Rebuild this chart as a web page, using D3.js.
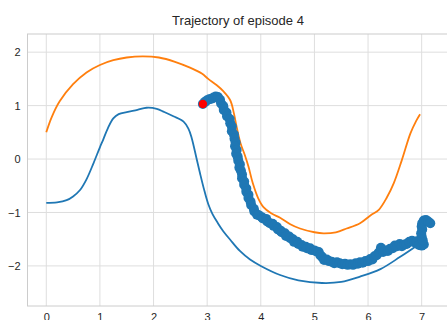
<!DOCTYPE html>
<html>
<head>
<meta charset="utf-8">
<script src="https://cdn.jsdelivr.net/npm/d3@7"></script>
<style>
  html, body { margin: 0; padding: 0; background: #fff; }
  svg { display: block; font-family: "Liberation Sans", Arial, sans-serif; }
</style>
</head>
<body>
<svg id="chart" width="447" height="320"></svg>
<script>
// Reference path (lower boundary), x / y
const lowerX = [0.0, 0.2, 0.38, 0.5, 0.63, 0.75, 0.88, 1.0, 1.06, 1.15, 1.25, 1.35, 1.5, 1.7, 1.87, 2.06, 2.2, 2.37, 2.56, 2.65, 2.71, 2.8, 2.87, 2.95, 3.02, 3.1, 3.2, 3.3, 3.43, 3.61, 3.8, 4.0, 4.36, 4.7, 5.14, 5.5, 5.85, 6.23, 6.6, 6.97];
const lowerY = [-0.82, -0.81, -0.77, -0.70, -0.58, -0.38, -0.08, 0.22, 0.36, 0.58, 0.76, 0.84, 0.88, 0.92, 0.96, 0.94, 0.88, 0.80, 0.70, 0.57, 0.40, 0.02, -0.28, -0.60, -0.84, -1.03, -1.2, -1.35, -1.51, -1.72, -1.88, -2.0, -2.17, -2.27, -2.32, -2.3, -2.2, -2.06, -1.83, -1.58];

// Upper boundary
const upperX = [0.0, 0.1, 0.25, 0.5, 0.75, 1.0, 1.25, 1.5, 1.8, 2.1, 2.4, 2.68, 2.9, 3.02, 3.18, 3.3, 3.43, 3.5, 3.55, 3.62, 3.7, 3.77, 3.85, 3.95, 4.05, 4.2, 4.36, 4.55, 4.73, 5.0, 5.17, 5.4, 5.6, 5.85, 6.05, 6.2, 6.35, 6.48, 6.63, 6.79, 6.9, 6.97];
const upperY = [0.5, 0.78, 1.08, 1.40, 1.62, 1.76, 1.85, 1.90, 1.92, 1.90, 1.82, 1.71, 1.60, 1.50, 1.38, 1.27, 1.10, 0.85, 0.6, 0.3, 0.08, -0.14, -0.45, -0.73, -0.9, -1.02, -1.10, -1.22, -1.30, -1.37, -1.39, -1.37, -1.30, -1.20, -1.05, -0.95, -0.72, -0.45, -0.02, 0.48, 0.72, 0.84];

// Trajectory of the episode (position, velocity)
const trajX = [2.92, 2.96, 3.00, 3.04, 3.08, 3.12, 3.16, 3.20, 3.24, 3.26, 3.30, 3.31, 3.36, 3.37, 3.42, 3.43, 3.46, 3.46, 3.50, 3.51, 3.53, 3.52, 3.55, 3.54, 3.57, 3.58, 3.61, 3.60, 3.63, 3.65, 3.65, 3.69, 3.69, 3.73, 3.73, 3.77, 3.77, 3.81, 3.82, 3.87, 3.88, 3.93, 3.96, 4.02, 4.04, 4.10, 4.12, 4.17, 4.22, 4.24, 4.30, 4.32, 4.37, 4.39, 4.45, 4.47, 4.53, 4.55, 4.60, 4.62, 4.68, 4.70, 4.76, 4.78, 4.84, 4.86, 4.92, 4.94, 5.00, 5.04, 5.08, 5.11, 5.14, 5.18, 5.23, 5.27, 5.32, 5.37, 5.42, 5.47, 5.52, 5.57, 5.62, 5.67, 5.72, 5.77, 5.81, 5.85, 5.90, 5.95, 6.00, 6.04, 6.08, 6.12, 6.16, 6.20, 6.24, 6.28, 6.32, 6.37, 6.41, 6.46, 6.50, 6.54, 6.59, 6.63, 6.68, 6.72, 6.77, 6.82, 6.87, 6.91, 6.95, 7.00, 7.04, 7.02, 7.00, 6.99, 7.01, 7.00, 7.01, 7.04, 7.08, 7.12, 7.16];
const trajY = [1.03, 1.07, 1.10, 1.12, 1.13, 1.15, 1.17, 1.16, 1.11, 1.04, 0.99, 0.92, 0.87, 0.80, 0.75, 0.67, 0.61, 0.52, 0.46, 0.38, 0.31, 0.24, 0.17, 0.10, 0.04, -0.03, -0.10, -0.16, -0.22, -0.29, -0.36, -0.42, -0.48, -0.55, -0.61, -0.67, -0.73, -0.80, -0.86, -0.93, -0.98, -1.04, -1.05, -1.09, -1.11, -1.12, -1.17, -1.20, -1.21, -1.25, -1.27, -1.32, -1.34, -1.37, -1.39, -1.44, -1.45, -1.48, -1.50, -1.55, -1.55, -1.59, -1.61, -1.64, -1.64, -1.67, -1.67, -1.70, -1.71, -1.73, -1.74, -1.80, -1.83, -1.89, -1.88, -1.91, -1.92, -1.95, -1.93, -1.95, -1.97, -1.96, -1.98, -1.97, -1.98, -1.95, -1.96, -1.93, -1.94, -1.91, -1.91, -1.87, -1.88, -1.82, -1.80, -1.75, -1.66, -1.74, -1.71, -1.72, -1.68, -1.67, -1.62, -1.63, -1.59, -1.63, -1.60, -1.59, -1.55, -1.53, -1.56, -1.54, -1.61, -1.62, -1.60, -1.52, -1.45, -1.39, -1.32, -1.26, -1.20, -1.15, -1.14, -1.17, -1.20];

const xTicks = [0, 1, 2, 3, 4, 5, 6, 7, 8];
const yTicks = [-2, -1, 0, 1, 2];
const titleText = "Trajectory of episode 4";

const svg = d3.select("#chart");
const margin = { left: 27.5, top: 34, right: 448.5, bottom: 306 };

const x = d3.scaleLinear().domain([-0.35, 7.5]).range([margin.left, margin.right]);
const y = d3.scaleLinear().domain([-2.75, 2.34]).range([margin.bottom, margin.top]);

const gridColor = "#dedede";
const textColor = "#262626";

// grid
svg.append("g")
  .selectAll("line")
  .data(xTicks)
  .join("line")
  .attr("x1", d => x(d)).attr("x2", d => x(d))
  .attr("y1", margin.top).attr("y2", margin.bottom)
  .attr("stroke", gridColor).attr("stroke-width", 1);

svg.append("g")
  .selectAll("line")
  .data(yTicks)
  .join("line")
  .attr("x1", margin.left).attr("x2", margin.right)
  .attr("y1", d => y(d)).attr("y2", d => y(d))
  .attr("stroke", gridColor).attr("stroke-width", 1);

// frame
svg.append("rect")
  .attr("x", margin.left).attr("y", margin.top)
  .attr("width", margin.right - margin.left)
  .attr("height", margin.bottom - margin.top)
  .attr("fill", "none").attr("stroke", "#cccccc").attr("stroke-width", 1);

// axes (labels only, no tick marks)
const xAxis = d3.axisBottom(x).tickValues(xTicks.slice(0, 8)).tickSize(0).tickPadding(7)
  .tickFormat(d => d3.format("d")(d));
svg.append("g")
  .attr("transform", `translate(0,${margin.bottom})`)
  .call(xAxis)
  .call(g => g.select(".domain").remove())
  .selectAll("text").attr("font-size", 11).attr("fill", textColor)
  .attr("font-family", "Liberation Sans, Arial, sans-serif");

const yAxis = d3.axisLeft(y).tickValues(yTicks).tickSize(0).tickPadding(7)
  .tickFormat(d => (d < 0 ? "\u2212" + Math.abs(d) : String(d)));
svg.append("g")
  .attr("transform", `translate(${margin.left},0)`)
  .call(yAxis)
  .call(g => g.select(".domain").remove())
  .selectAll("text").attr("font-size", 11).attr("fill", textColor)
  .attr("font-family", "Liberation Sans, Arial, sans-serif");

// title
svg.append("text")
  .attr("x", (margin.left + margin.right) / 2)
  .attr("y", 24.5)
  .attr("text-anchor", "middle")
  .attr("font-size", 13)
  .attr("fill", textColor)
  .text(titleText);

const line = d3.line()
  .x(d => x(d[0])).y(d => y(d[1]))
  .curve(d3.curveCatmullRom.alpha(0.5));

const lower = lowerX.map((v, i) => [v, lowerY[i]]);
const upper = upperX.map((v, i) => [v, upperY[i]]);
const traj = trajX.map((v, i) => [v, trajY[i]]);

svg.append("path").datum(lower)
  .attr("d", line).attr("fill", "none")
  .attr("stroke", "#1f77b4").attr("stroke-width", 1.8);

svg.append("path").datum(upper)
  .attr("d", line).attr("fill", "none")
  .attr("stroke", "#ff7f0e").attr("stroke-width", 1.8);

svg.append("g")
  .selectAll("circle")
  .data(traj)
  .join("circle")
  .attr("cx", d => x(d[0])).attr("cy", d => y(d[1]))
  .attr("r", 5)
  .attr("fill", "#1f77b4");

// start point
svg.append("circle")
  .datum(traj[0])
  .attr("cx", d => x(d[0])).attr("cy", d => y(d[1]))
  .attr("r", 4.2)
  .attr("fill", "#ff0000");
</script>
</body>
</html>
